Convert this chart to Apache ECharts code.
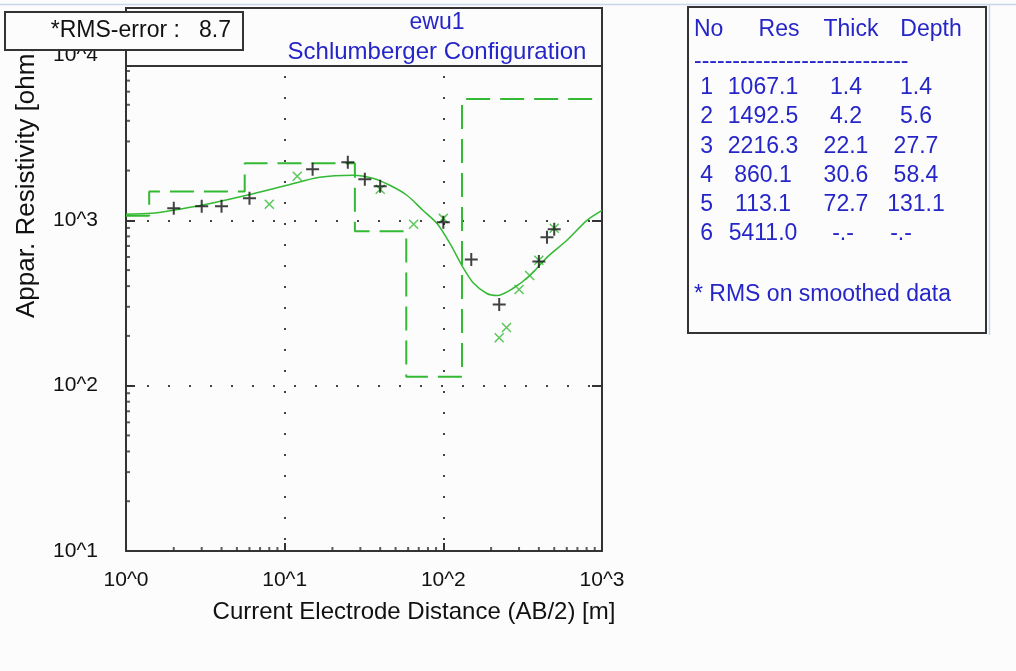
<!DOCTYPE html>
<html>
<head>
<meta charset="utf-8">
<script src="https://cdn.jsdelivr.net/npm/echarts@6/dist/echarts.min.js"></script>
<style>
html, body { margin: 0; padding: 0; background: #fcfcfc; }
#chart { width: 1016px; height: 671px; }
</style>
</head>
<body>
<div id="chart"></div>
<script>
// layer model (table on the right)
var layerNo = [1, 2, 3, 4, 5, 6];
var layerRes = [1067.1, 1492.5, 2216.3, 860.1, 113.1, 5411.0];
var layerThick = [1.4, 4.2, 22.1, 30.6, 72.7];
var layerDepth = [1.4, 5.6, 27.7, 58.4, 131.1];
var rmsError = 8.7;

// field data (black +) and smoothed data (green x)
var fieldAB = [2, 3, 4, 6, 15, 25, 32, 40, 100, 150, 225, 400, 450, 500];
var fieldRho = [1182, 1216, 1216, 1360, 2036, 2246, 1771, 1607, 972, 580, 310, 564, 789, 882];
var smoothAB = [8, 12, 40, 65, 100, 225, 250, 300, 350, 400, 500];
var smoothRho = [1250, 1848, 1541, 946, 1028, 195, 225, 382, 464, 573, 895];

// calculated curve of the model
var curveAB = [1, 1.45, 1.97, 3.0, 5.76, 10.3, 16.6, 26.9, 35.9, 46, 58.9, 74.3, 91, 110, 133, 153.6, 188, 218, 274, 351, 450, 601, 804, 1000];
var curveRho = [1087, 1103, 1150, 1233, 1418, 1629, 1822, 1874, 1797, 1629, 1418, 1150, 959, 725, 519, 421, 361, 351, 387, 464, 597, 757, 1000, 1150];

// axes
var xTicks = [1, 10, 100, 1000];
var xTickLabels = ['10^0', '10^1', '10^2', '10^3'];
var yTicks = [10, 100, 1000, 10000];
var yTickLabels = ['10^1', '10^2', '10^3', '10^4'];

var GREEN = '#33b933';
var BLUE = '#2626c8';
var FONT = '"Liberation Sans", Arial, sans-serif';

function tickLabel(ticks, labels) {
	return function (v) {
		for (var i = 0; i < ticks.length; i++) {
			if (Math.abs(Math.log10(v) - Math.log10(ticks[i])) < 1e-6) return labels[i];
		}
		return '';
	};
}

//阶梯模型线
function buildModel() {
	var pts = [[xTicks[0], layerRes[0]]];
	for (var i = 0; i < layerDepth.length; i++) {
		pts.push([layerDepth[i], layerRes[i]]);
		pts.push([layerDepth[i], layerRes[i + 1]]);
	}
	pts.push([xTicks[xTicks.length - 1], layerRes[layerRes.length - 1]]);
	return pts;
}

function zip(a, b) {
	var r = [];
	for (var i = 0; i < a.length; i++) r.push([a[i], b[i]]);
	return r;
}

//小刻度
function minorValues(ticks) {
	var r = [];
	for (var i = 0; i < ticks.length - 1; i++) {
		for (var k = 2; k < 10; k++) r.push(ticks[i] * k);
	}
	return r;
}

function buildTable() {
	var els = [];
	var txt = function (x, y, s, align) {
		els.push({
			type: 'text', z: 120, x: x, y: y,
			style: { text: s, fill: BLUE, font: '23px ' + FONT, textAlign: align || 'left', textVerticalAlign: 'middle' }
		});
	};
	els.push({
		type: 'rect', z: 110,
		shape: { x: 688, y: 7, width: 298, height: 326 },
		style: { fill: '#fcfcfc', stroke: '#333', lineWidth: 2 }
	});
	txt(694, 30, 'No');
	txt(779, 30, 'Res', 'center');
	txt(851, 30, 'Thick', 'center');
	txt(931, 30, 'Depth', 'center');
	txt(694, 62, '----------------------------');
	var rowY = [88, 117, 147, 176, 205, 234];
	for (var i = 0; i < layerNo.length; i++) {
		var th = i < layerThick.length ? layerThick[i].toFixed(1) : '-.-';
		var de = i < layerDepth.length ? layerDepth[i].toFixed(1) : '-.-';
		txt(713, rowY[i], String(layerNo[i]), 'right');
		txt(763, rowY[i], layerRes[i].toFixed(1), 'center');
		txt(th == '-.-' ? 843 : 846, rowY[i], th, 'center');
		txt(de == '-.-' ? 901 : 916, rowY[i], de, 'center');
	}
	txt(694, 295, '* RMS on smoothed data');
	return els;
}

var chart = echarts.init(document.getElementById('chart'));
var graphics = [
	{ type: 'line', z: 1, shape: { x1: 0, y1: 4.5, x2: 1016, y2: 4.5 }, style: { stroke: '#c6d6ec', lineWidth: 1.5 } },
	{ type: 'line', z: 1, shape: { x1: 989.5, y1: 4, x2: 989.5, y2: 335 }, style: { stroke: '#c6d6ec', lineWidth: 1.5 } },
	// y 轴标题
	{
		type: 'text', z: 50, x: 27, y: 318, rotation: Math.PI / 2,
		style: { text: 'Appar. Resistivity [ohm.m]', fill: '#111', font: '26px ' + FONT, textAlign: 'left', textVerticalAlign: 'middle' }
	},
	// x 轴标题
	{
		type: 'text', z: 50, x: 414, y: 612,
		style: { text: 'Current Electrode Distance (AB/2) [m]', fill: '#111', font: '24px ' + FONT, textAlign: 'center', textVerticalAlign: 'middle' }
	},
	// 标题框
	{
		type: 'rect', z: 100,
		shape: { x: 126, y: 8, width: 476, height: 58 },
		style: { fill: '#fcfcfc', stroke: '#333', lineWidth: 2 }
	},
	{
		type: 'text', z: 101, x: 437, y: 23,
		style: { text: 'ewu1', fill: BLUE, font: '23px ' + FONT, textAlign: 'center', textVerticalAlign: 'middle' }
	},
	{
		type: 'text', z: 101, x: 437, y: 52,
		style: { text: 'Schlumberger Configuration', fill: BLUE, font: '24px ' + FONT, textAlign: 'center', textVerticalAlign: 'middle' }
	},
	// RMS 框
	{
		type: 'rect', z: 105,
		shape: { x: 5, y: 12, width: 238, height: 38 },
		style: { fill: '#fcfcfc', stroke: '#333', lineWidth: 2 }
	},
	{
		type: 'text', z: 106, x: 231, y: 31,
		style: { text: '*RMS-error :   ' + rmsError.toFixed(1), fill: '#111', font: '23px ' + FONT, textAlign: 'right', textVerticalAlign: 'middle' }
	}
].concat(buildTable());

var axisLineStyle = { color: '#333', width: 2 };
var dotted = { color: '#444', width: 2, type: [2, 19] };

var option = {
	backgroundColor: '#fcfcfc',
	animation: false,
	grid: { left: 126, right: 414, top: 55, bottom: 120 },
	xAxis: [{
		type: 'log', logBase: 10, min: xTicks[0], max: xTicks[xTicks.length - 1],
		axisLine: { show: true, lineStyle: axisLineStyle },
		axisTick: { show: true, inside: true, length: 8, lineStyle: axisLineStyle },
		axisLabel: {
			show: true, margin: 19, showMinLabel: true, showMaxLabel: true,
			color: '#111', fontSize: 21, fontFamily: FONT,
			formatter: tickLabel(xTicks, xTickLabels)
		},
		splitLine: { show: true, lineStyle: dotted }
	}],
	yAxis: [{
		type: 'log', logBase: 10, min: yTicks[0], max: yTicks[yTicks.length - 1],
		axisLine: { show: true, lineStyle: axisLineStyle },
		axisTick: { show: true, inside: true, length: 9, lineStyle: axisLineStyle },
		axisLabel: {
			show: true, margin: 28, showMinLabel: true, showMaxLabel: true,
			color: '#111', fontSize: 21, fontFamily: FONT,
			formatter: tickLabel(yTicks, yTickLabels)
		},
		splitLine: { show: true, lineStyle: dotted }
	}, {
		type: 'log', logBase: 10, min: yTicks[0], max: yTicks[yTicks.length - 1], position: 'right',
		axisLine: { show: true, lineStyle: axisLineStyle },
		axisTick: { show: true, inside: true, length: 10, lineStyle: axisLineStyle },
		axisLabel: { show: false },
		splitLine: { show: false }
	}],
	graphic: graphics,
	series: [
		{
			name: 'model', type: 'line', data: buildModel(), showSymbol: false, z: 3,
			lineStyle: { color: GREEN, width: 2, type: [24, 10] }
		},
		{
			name: 'curve', type: 'line', data: zip(curveAB, curveRho), showSymbol: false, smooth: 0.3, z: 4,
			lineStyle: { color: GREEN, width: 1.5 }
		},
		{
			name: 'smoothed', type: 'scatter', data: zip(smoothAB, smoothRho), z: 5,
			symbol: 'path://M0,0L10,10M10,0L0,10', symbolSize: 9,
			itemStyle: { color: 'none', borderColor: GREEN, borderWidth: 1.5 }
		},
		{
			name: 'field', type: 'scatter', data: zip(fieldAB, fieldRho), z: 6,
			symbol: 'path://M0,6L12,6M6,0L6,12', symbolSize: 13,
			itemStyle: { color: 'none', borderColor: '#111', borderWidth: 2 }
		},
		{
			name: 'xMinor', type: 'scatter', clip: false, silent: true, z: 7,
			data: minorValues(xTicks).map(function (v) { return [v, yTicks[0]]; }),
			symbol: 'rect', symbolSize: [2, 4], symbolOffset: [0, -2],
			itemStyle: { color: '#333' }
		},
		{
			name: 'yMinor', type: 'scatter', clip: false, silent: true, z: 7,
			data: minorValues(yTicks).map(function (v) { return [xTicks[0], v]; }),
			symbol: 'rect', symbolSize: [4, 2], symbolOffset: [2, 0],
			itemStyle: { color: '#333' }
		}
	]
};
chart.setOption(option);
</script>
</body>
</html>
